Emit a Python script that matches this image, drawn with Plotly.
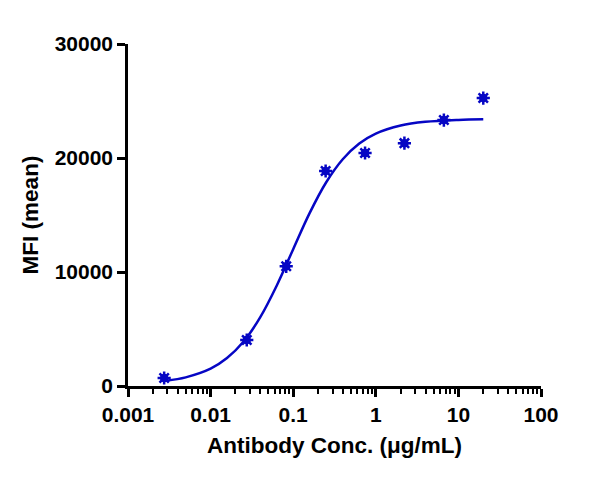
import plotly.graph_objects as go

# measured points (threefold dilution series)
conc = [0.00274, 0.0274, 0.0823, 0.247, 0.741, 2.22, 6.67, 20]
mfi = [700, 4035, 10500, 18860, 20440, 21300, 23330, 25260]

# fitted curve
fit_x = [0.00288, 0.005, 0.01, 0.0158, 0.0251, 0.0398, 0.0631, 0.1, 0.158,
         0.251, 0.398, 0.631, 1, 2, 3.98, 10, 20]
fit_y = [465, 760, 1520, 2450, 3900, 6020, 8800, 12000, 15160,
         17870, 19890, 21270, 22140, 22850, 23170, 23340, 23390]

x_ticks = [0.001, 0.01, 0.1, 1, 10, 100]
x_labels = ["0.001", "0.01", "0.1", "1", "10", "100"]
y_ticks = [0, 10000, 20000, 30000]

blue = "#0606c4"
fam = "Liberation Sans, Arial, sans-serif"
tick_font = dict(family=fam, size=21, color="black", weight="bold")
title_font = dict(family=fam, size=22.5, color="black", weight="bold")

fig = go.Figure()
fig.add_trace(go.Scatter(x=fit_x, y=fit_y, mode="lines",
                         line=dict(color=blue, width=2.5, shape="spline"),
                         hoverinfo="skip"))
# asterisk marker = filled dot + spokes on top
fig.add_trace(go.Scatter(x=conc, y=mfi, mode="markers",
                         marker=dict(symbol="circle", size=8.5, color=blue,
                                     line=dict(width=0))))
fig.add_trace(go.Scatter(x=conc, y=mfi, mode="markers",
                         marker=dict(symbol="asterisk", size=11, color=blue,
                                     line=dict(width=2.5, color=blue))))

# page body has an 8px margin, so shave it off the figure box
fig.update_layout(
    width=604, height=479,
    margin=dict(l=120, r=71, t=36, b=101),
    paper_bgcolor="white", plot_bgcolor="white",
    showlegend=False,
    font=dict(family=fam, size=21, color="black"),
)
fig.update_xaxes(
    type="log", range=[-3, 2],
    tickvals=x_ticks, ticktext=x_labels,
    showline=True, linecolor="black", linewidth=2.5,
    ticks="outside", ticklen=8, tickwidth=2.5, tickcolor="black",
    minor=dict(ticks="outside", ticklen=5, tickwidth=2, tickcolor="black",
               dtick="D1", showgrid=False),
    showgrid=False, zeroline=False,
    tickfont=tick_font,
    title=dict(text="Antibody Conc. (μg/mL)", standoff=13, font=title_font),
)
fig.update_yaxes(
    range=[0, 30000],
    tickvals=y_ticks, tickformat="d",
    showline=True, linecolor="black", linewidth=2.5,
    ticks="outside", ticklen=8, tickwidth=2.5, tickcolor="black",
    showgrid=False, zeroline=False,
    tickfont=tick_font,
    title=dict(text="MFI (mean)", standoff=10, font=title_font),
)

fig.write_html("out.html")
